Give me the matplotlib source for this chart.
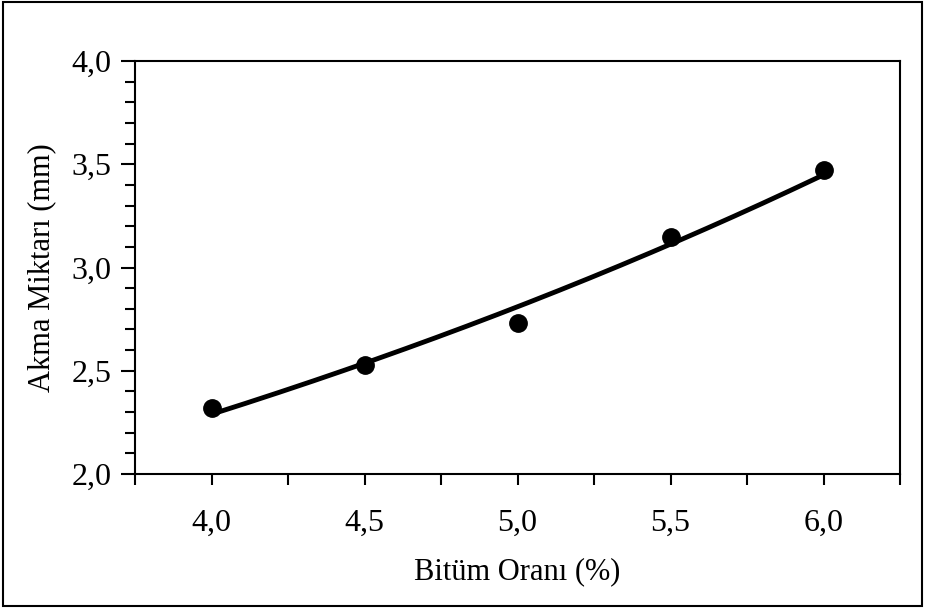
import matplotlib
matplotlib.use('Agg')
import matplotlib.pyplot as plt
import numpy as np
from matplotlib.patches import Rectangle
from matplotlib.ticker import MultipleLocator, FuncFormatter

plt.rcParams['font.family'] = 'Liberation Serif'

# data
bitum = [4.0, 4.5, 5.0, 5.5, 6.0]
akma = [2.32, 2.53, 2.73, 3.15, 3.47]

# exponential trend line (like Excel's), fitted on log values
b, ln_a = np.polyfit(bitum, np.log(akma), 1)
xs = np.linspace(min(bitum), max(bitum), 200)
ys = np.exp(ln_a + b * xs)

fig = plt.figure(figsize=(9.25, 6.08), dpi=100)
ax = fig.add_axes([135/925, 134/608, 765/925, 413/608])

ax.plot(xs, ys, color='black', linewidth=3.5, solid_capstyle='butt')
ax.plot(bitum, akma, 'o', color='black', markersize=12.5)

ax.set_xlim(3.75, 6.25)
ax.set_ylim(2.0, 4.0)

ax.xaxis.set_major_locator(MultipleLocator(0.5))
ax.xaxis.set_minor_locator(MultipleLocator(0.25))
ax.yaxis.set_major_locator(MultipleLocator(0.5))
ax.yaxis.set_minor_locator(MultipleLocator(0.1))

def comma(v, pos):
    if v < 3.9 or v > 6.1:
        return ''
    return f'{v:.1f}'.replace('.', ',')

ax.xaxis.set_major_formatter(FuncFormatter(comma))
ax.yaxis.set_major_formatter(FuncFormatter(lambda v, p: f'{v:.1f}'.replace('.', ',')))

ax.tick_params(axis='x', which='both', direction='out', length=8, width=1.5,
               labelsize=23, pad=17)
ax.tick_params(axis='y', which='major', direction='out', length=10, width=1.5,
               labelsize=23, pad=7)
ax.tick_params(axis='y', which='minor', direction='out', length=7, width=1.5)

for s in ax.spines.values():
    s.set_linewidth(1.5)

ax.set_xlabel('Bitüm Oranı (%)', fontsize=22, labelpad=14)
ax.set_ylabel('Akma Miktarı (mm)', fontsize=22, labelpad=11)

# outer frame around the whole figure
fig.patches.append(Rectangle((0.003, 0.004), 0.994, 0.992, transform=fig.transFigure,
                             fill=False, edgecolor='black', linewidth=1.5))

fig.savefig('out.png', dpi=100)
